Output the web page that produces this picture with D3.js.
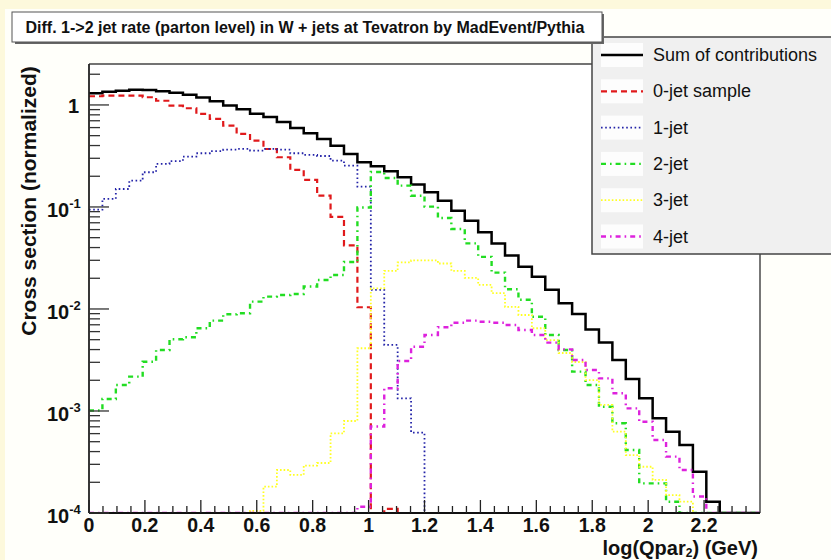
<!DOCTYPE html>
<html>
<head>
<meta charset="utf-8">
<script src="https://cdn.jsdelivr.net/npm/d3@7"></script>
<style>
  html, body { margin: 0; padding: 0; background: #fdf9dc; }
  svg { display: block; }
  text { font-family: "Liberation Sans", Arial, Helvetica, sans-serif; }
</style>
</head>
<body>
<svg id="chart" width="831" height="560"></svg>
<script>
// ---------------- data ----------------
const binStart = 0;
const binWidth = 0.048;           // 50 bins over 0 .. 2.4
const seriesNames = ["Sum of contributions", "0-jet sample", "1-jet", "2-jet", "3-jet", "4-jet"];

const sumVals = [1.30,1.35,1.38,1.41,1.40,1.36,1.32,1.26,1.18,1.09,
  0.99,0.91,0.82,0.76,0.68,0.595,0.528,0.464,0.399,0.331,
  0.274,0.251,0.224,0.195,0.166,0.139,0.115,0.092,0.0734,0.0565,
  0.0439,0.0335,0.026,0.0207,0.0154,0.0114,0.00893,0.0063,0.0047,0.00316,
  0.00206,0.00133,0.00085,0.000627,0.000464,0.000254,0.000129,0,0,0];

const jet0Vals = [1.217,1.233,1.233,1.233,1.19,1.10,0.984,0.928,0.816,0.729,
  0.627,0.52,0.447,0.37,0.307,0.231,0.184,0.129,0.080,0.042,
  0.0104,0,0.00011,0,0,0,0,0,0,0,
  0,0,0,0,0,0,0,0,0,0,
  0,0,0,0,0,0,0,0,0,0];

const jet1Vals = [0.094,0.12,0.15,0.181,0.219,0.264,0.281,0.311,0.336,0.352,
  0.365,0.371,0.357,0.371,0.365,0.336,0.324,0.316,0.284,0.254,
  0.158,0.0154,0.00444,0.00133,0.000613,0,0,0,0,0,
  0,0,0,0,0,0,0,0,0,0,
  0,0,0,0,0,0,0,0,0,0];

const jet2Vals = [0.00101,0.00131,0.0018,0.00217,0.00304,0.00396,0.00505,0.00528,0.00647,0.00768,
  0.00887,0.00908,0.0118,0.0132,0.0137,0.014,0.0166,0.0192,0.0215,0.0289,
  0.0989,0.22,0.192,0.162,0.129,0.1007,0.078,0.0609,0.044,0.0324,
  0.0227,0.0156,0.0123,0.0084,0.00556,0.00396,0.00243,0.0018,0.0011,0.000757,
  0.000415,0.000195,0.000195,0.000129,0,0,0,0,0,0];

const jet3Vals = [0,0,0,0,0,0,0,0,0,0,
  0,0,0.000105,0.000181,0.000264,0.000236,0.000292,0.000309,0.000604,0.000798,
  0.00412,0.0159,0.0236,0.0286,0.0299,0.0299,0.0279,0.0236,0.0202,0.0172,
  0.0143,0.0105,0.00873,0.00647,0.00496,0.0037,0.00302,0.00201,0.00115,0.000627,
  0.00037,0.000284,0.000211,0.00015,0.000129,0,0,0,0,0];

const jet4Vals = [0,0,0,0,0,0,0,0,0,0,
  0,0,0,0,0,0,0,0,0,0,
  0.000115,0.000705,0.00167,0.00309,0.00427,0.00556,0.00662,0.00734,0.00768,0.0075,
  0.00734,0.00697,0.00622,0.00556,0.00468,0.00402,0.00316,0.00252,0.00209,0.00149,
  0.00106,0.000785,0.00052,0.000357,0.000264,0.000145,0,0,0,0];

const xMajorTicks = [0,0.2,0.4,0.6,0.8,1,1.2,1.4,1.6,1.8,2,2.2];
const xTickLabels = ["0","0.2","0.4","0.6","0.8","1","1.2","1.4","1.6","1.8","2","2.2"];
const yDecades = [1e-4,1e-3,1e-2,1e-1,1];
const yDecadeExps = ["-4","-3","-2","-1",""];

// ---------------- styles ----------------
const allSeries = [sumVals, jet0Vals, jet1Vals, jet2Vals, jet3Vals, jet4Vals];
const colors = ["#000000", "#e0191b", "#2323a8", "#22dd22", "#ffff22", "#dd22dd"];
const dashes = [null, "6,4", "1.6,2.6", "5,4,1.6,4", "1.6,2", "5,4,1.6,4"];
const widths = [2.5, 2.2, 1.8, 2.4, 1.8, 2.4];

// ---------------- layout ----------------
const svg = d3.select("#chart");
const W = 831, H = 560;
const L = 89, R = 760, T = 64, B = 513;
const yMin = 1e-4, yMax = 2.52;

const x = d3.scaleLinear().domain([0, 2.4]).range([L, R]);
const y = d3.scaleLog().domain([yMin, yMax]).range([B, T]);

// pad background
svg.append("rect").attr("x", 5).attr("y", 9).attr("width", W - 5).attr("height", H - 9).attr("fill", "#fffffa");
// frame fill
svg.append("rect").attr("x", L).attr("y", T).attr("width", R - L).attr("height", B - T).attr("fill", "#ffffff");

// histograms
const clip = svg.append("clipPath").attr("id", "plotclip");
clip.append("rect").attr("x", L - 1).attr("y", T).attr("width", R - L + 2).attr("height", B - T + 1);

const line = d3.line().x(d => x(d[0])).y(d => y(d[1]));
const gHist = svg.append("g").attr("clip-path", "url(#plotclip)");
allSeries.forEach((vals, k) => {
  const pts = [];
  vals.forEach((v, i) => {
    const vv = Math.max(v, yMin);
    pts.push([binStart + i * binWidth, vv]);
    pts.push([binStart + (i + 1) * binWidth, vv]);
  });
  const p = gHist.append("path")
    .attr("d", line(pts))
    .attr("fill", "none")
    .attr("stroke", colors[k])
    .attr("stroke-width", widths[k])
    .attr("stroke-linejoin", "miter");
  if (dashes[k]) p.attr("stroke-dasharray", dashes[k]);
});

// frame top & right
svg.append("line").attr("x1", L).attr("x2", R).attr("y1", T).attr("y2", T).attr("stroke", "#444").attr("stroke-width", 1.6);
svg.append("line").attr("x1", R).attr("x2", R).attr("y1", T).attr("y2", B).attr("stroke", "#555").attr("stroke-width", 1.6);

// axes lines
svg.append("line").attr("x1", L).attr("x2", R).attr("y1", B).attr("y2", B).attr("stroke", "#111").attr("stroke-width", 1.8);
svg.append("line").attr("x1", L).attr("x2", L).attr("y1", T).attr("y2", B).attr("stroke", "#222").attr("stroke-width", 1.8);

// x ticks
const gx = svg.append("g");
d3.range(0, 48).forEach(i => {
  const v = i * 0.05;
  const isMajor = i % 4 === 0;
  gx.append("line").attr("x1", x(v)).attr("x2", x(v)).attr("y1", B).attr("y2", B - (isMajor ? 13 : 7))
    .attr("stroke", "#222").attr("stroke-width", 1.3);
});
xMajorTicks.forEach((v, i) => {
  gx.append("text").attr("x", x(v)).attr("y", 532).attr("text-anchor", "middle")
    .attr("font-size", 19.5).attr("font-weight", "bold").attr("fill", "#111").text(xTickLabels[i]);
});

// y ticks
const gy = svg.append("g");
for (let e = -4; e <= 0; e++) {
  for (let m = 1; m <= 9; m++) {
    const v = m * Math.pow(10, e);
    if (v > yMax) break;
    const major = m === 1;
    gy.append("line").attr("x1", L).attr("x2", L + (major ? 20 : 11)).attr("y1", y(v)).attr("y2", y(v))
      .attr("stroke", "#333").attr("stroke-width", 1.3);
  }
}
yDecades.forEach((v, i) => {
  const yy = y(v);
  if (yDecadeExps[i] === "") {
    gy.append("text").attr("x", 79).attr("y", yy + 8).attr("text-anchor", "end")
      .attr("font-size", 20).attr("font-weight", "bold").attr("fill", "#111").text("1");
  } else {
    const t = gy.append("text").attr("x", 47).attr("y", yy + 10)
      .attr("font-size", 20).attr("font-weight", "bold").attr("fill", "#111");
    t.append("tspan").text("10");
    t.append("tspan").attr("font-size", 13).attr("dy", -9).text(yDecadeExps[i]);
  }
});

// axis titles
svg.append("text").attr("transform", "translate(36,201) rotate(-90)").attr("text-anchor", "middle")
  .attr("font-size", 21).attr("font-weight", "bold").attr("fill", "#111").text("Cross section (normalized)");
const xt = svg.append("text").attr("x", 758).attr("y", 555).attr("text-anchor", "end")
  .attr("font-size", 20).attr("font-weight", "bold").attr("fill", "#111");
xt.append("tspan").text("log(Qpar");
xt.append("tspan").attr("font-size", 12).attr("dy", 2).text("2");
xt.append("tspan").attr("dy", -2).text(") (GeV)");

// legend
const lg = svg.append("g");
lg.append("rect").attr("x", 592).attr("y", 37).attr("width", 250).attr("height", 217)
  .attr("fill", "#f0f0f0").attr("stroke", "#444").attr("stroke-width", 1.5);
seriesNames.forEach((name, k) => {
  const cy = 55 + k * 36.3;
  lg.append("rect").attr("x", 601).attr("y", cy - 12).attr("width", 42).attr("height", 24).attr("fill", "#fdfdfd");
  const l = lg.append("line").attr("x1", 601).attr("x2", 643).attr("y1", cy).attr("y2", cy)
    .attr("stroke", colors[k]).attr("stroke-width", widths[k]);
  if (dashes[k]) l.attr("stroke-dasharray", dashes[k]);
  lg.append("text").attr("x", 653).attr("y", cy + 6).attr("font-size", 18).attr("fill", "#111").text(name);
});

// title box
const tb = svg.append("g");
tb.append("rect").attr("x", 15).attr("y", 14).attr("width", 589).attr("height", 30).attr("fill", "#666");
tb.append("rect").attr("x", 12).attr("y", 12).attr("width", 590).attr("height", 30)
  .attr("fill", "#ffffff").attr("stroke", "#555").attr("stroke-width", 1);
tb.append("text").attr("x", 305).attr("y", 33).attr("text-anchor", "middle")
  .attr("font-size", 16).attr("font-weight", "bold").attr("fill", "#111")
  .text("Diff. 1->2 jet rate (parton level) in W + jets at Tevatron by MadEvent/Pythia");
</script>
</body>
</html>
